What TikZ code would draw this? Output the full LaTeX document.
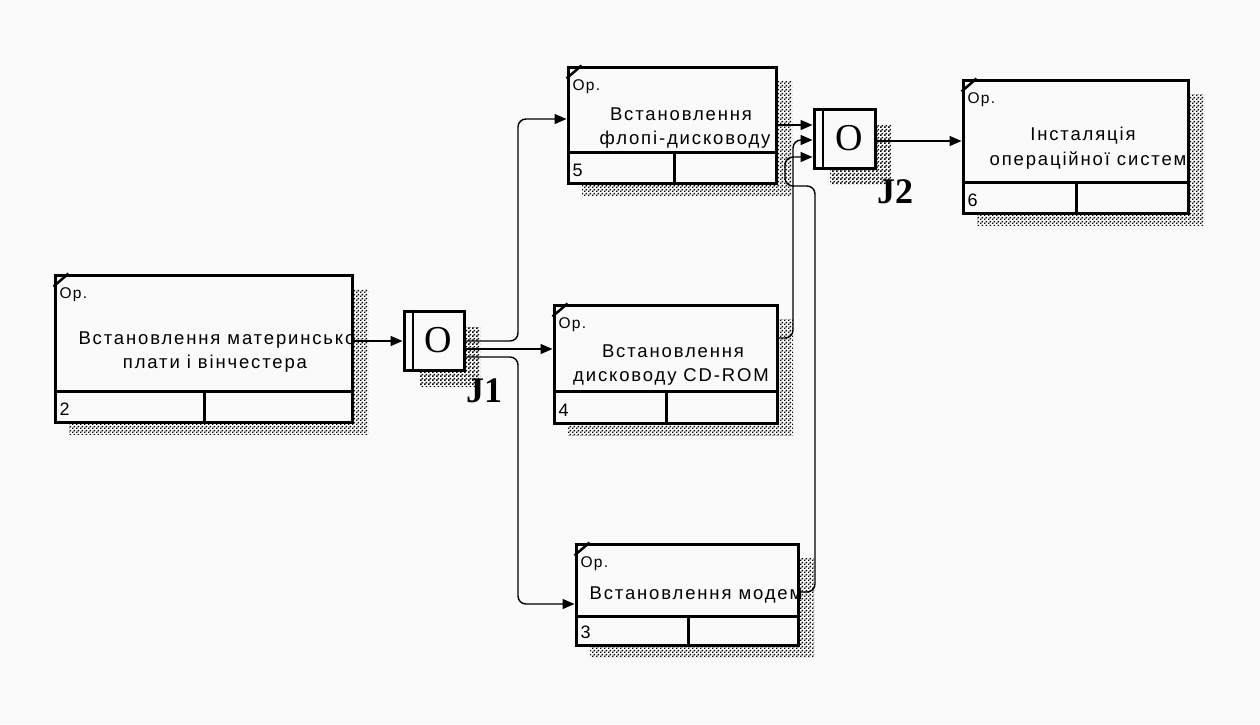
\documentclass[tikz,border=0pt]{standalone}
\usepackage{fontspec}
\setmainfont{Liberation Serif}
\newfontfamily\lsans[LetterSpace=10]{Liberation Sans}
\newfontfamily\lsanssm[LetterSpace=8]{Liberation Sans}
\usetikzlibrary{arrows.meta,patterns}
\definecolor{bg}{RGB}{250,250,250}
\pgfdeclarepatternformonly{idefdots}{\pgfqpoint{0pt}{0pt}}{\pgfqpoint{4pt}{4pt}}{\pgfqpoint{4pt}{4pt}}{%
 \pgfpathrectangle{\pgfqpoint{0pt}{0pt}}{\pgfqpoint{1.85pt}{1.85pt}}%
 \pgfpathrectangle{\pgfqpoint{2pt}{2pt}}{\pgfqpoint{1.85pt}{1.85pt}}%
 \pgfusepath{fill}%
}
\tikzset{
 box/.style={draw, line width=3pt, fill=bg, rectangle, inner sep=0pt},
 shadowfill/.style={pattern=idefdots, pattern color=black},
 divider/.style={line width=3pt},
 cornerline/.style={line width=2.5pt},
 conn/.style={line width=1.4pt, rounded corners=8pt},
 arr/.style={-{Triangle[length=12pt,width=10pt]}},
 maintext/.style={font=\lsans\fontsize{18.5}{20}\selectfont, inner sep=0pt, anchor=base},
 optext/.style={font=\lsanssm\fontsize{15.5}{16}\selectfont, inner sep=0pt, anchor=base west},
 numtext/.style={font=\lsans\fontsize{18}{20}\selectfont, inner sep=0pt, anchor=base west},
 junc/.style={draw, line width=3pt, fill=bg, rectangle, inner sep=0pt},
 otext/.style={font=\fontsize{38}{40}\selectfont, inner sep=0pt},
 jlabel/.style={font=\bfseries\fontsize{36}{38}\selectfont, inner sep=0pt},
}
\newcommand\idefbox[8]{%
 \fill[shadowfill] ({#2+14},{#3+14}) rectangle ({#4+16},{#5+12});
 \node[box, minimum width={#4-#2}, minimum height={#5-#3}] (#1) at ({(#2+#4)/2},{(#3+#5)/2}) {};
 \draw[divider] (#1.west |- 0,#6) -- (#1.east |- 0,#6);
 \draw[divider] (#7,#6) -- (#1.south -| #7,0);
 \draw[cornerline] ([yshift=-13pt]#1.north west) -- ([xshift=15pt]#1.north west);
 \node[optext] (#1op) at ([xshift=6pt,yshift=-25pt]#1.north west) {Ор.};
 \node[numtext] (#1num) at ([xshift=6pt,yshift=8pt]#1.south west) {#8};
}
\newcommand\idefjunc[5]{%
 \fill[shadowfill] ({#2+16},{#3+16}) rectangle ({#4+16},{#5+16});
 \node[junc, minimum width={#4-#2}, minimum height={#5-#3}] (#1) at ({(#2+#4)/2},{(#3+#5)/2}) {};
 \draw[line width=2pt] (#1.north -| {#2+9},0) -- (#1.south -| {#2+9},0);
 \node[otext] (#1o) at ({(#2+9+#4)/2},{(#3+#5)/2}) {O};
}
\begin{document}
\begin{tikzpicture}[x=1pt,y=-1pt]
\fill[bg] (0,0) rectangle (1260,724);
\useasboundingbox (0,0) rectangle (1260,724);
\idefbox{b2}{55}{275}{352}{422}{391}{204}{2}
\idefbox{b5}{568}{67}{776}{183}{152}{674}{5}
\idefbox{b4}{554}{305}{777}{423}{391}{666}{4}
\idefbox{b3}{576}{544}{798}{645}{616}{688}{3}
\idefbox{b6}{963}{80}{1188}{213}{182}{1076}{6}
\idefjunc{j1}{404}{311}{464}{370}
\idefjunc{j2}{814}{109}{875}{168}
\node[maintext] (t2a) at (217,344) {Встановлення материнсько};
\node[maintext] (t2b) at (215,368) {плати і вінчестера};
\node[maintext] (t5a) at (681,120) {Встановлення};
\node[maintext] (t5b) at (685,144) {флопі-дисководу};
\node[maintext] (t4a) at (673,357) {Встановлення};
\node[maintext] (t4b) at (671,381) {дисководу CD-ROM};
\node[maintext] (t3a) at (696,599) {Встановлення модем};
\node[maintext] (t6a) at (1083,140) {Інсталяція};
\node[maintext] (t6b) at (1088,165) {операційної систем};
\draw[conn,arr] (b2.east |- 0,341) -- (j1.west |- 0,341);
\draw[conn,arr] (j1.east |- 0,341) -- (518,341) -- (518,119) -- (b5.west |- 0,119);
\draw[conn,arr] (j1.east |- 0,349) -- (b4.west |- 0,349);
\draw[conn,arr] (j1.east |- 0,357) -- (518,357) -- (518,604) -- (b3.west |- 0,604);
\draw[conn,arr] (b5.east |- 0,125) -- (j2.west |- 0,125);
\draw[conn,arr] (b4.east |- 0,338) -- (793,338) -- (793,140) -- (j2.west |- 0,140);
\draw[conn,arr] (b3.east |- 0,592) -- (815,592) -- (815,186) -- (785,186) -- (785,157) -- (j2.west |- 0,157);
\draw[conn,arr] (j2.east |- 0,141) -- (b6.west |- 0,141);
\node[jlabel] (j1lab) at (484,391) {J1};
\node[jlabel] (j2lab) at (895,192) {J2};
\end{tikzpicture}
\end{document}
